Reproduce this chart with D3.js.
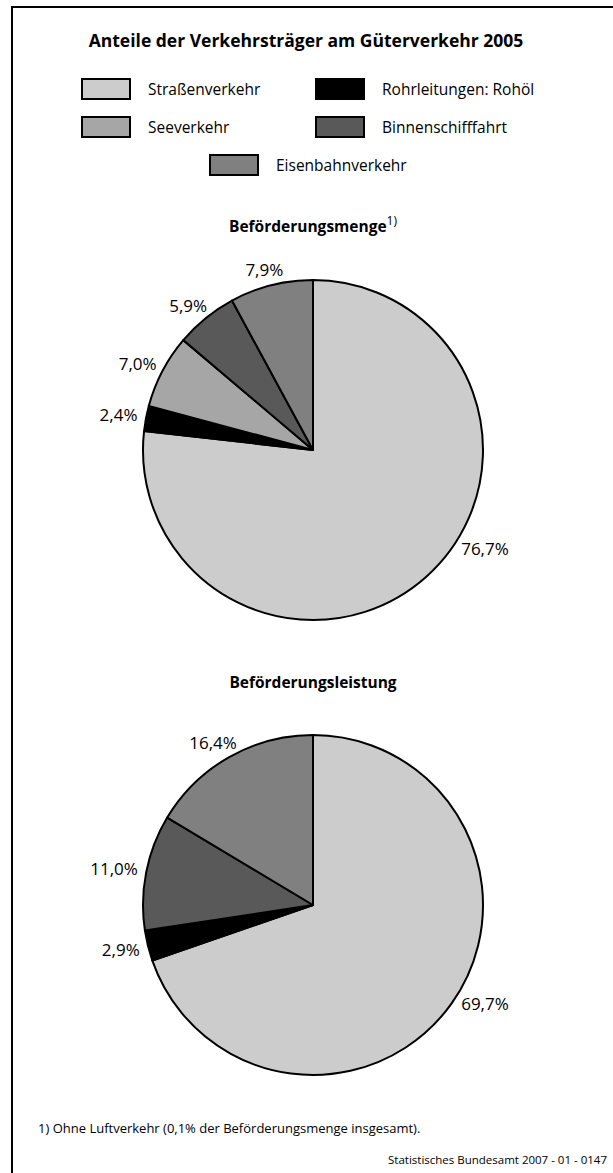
<!DOCTYPE html>
<html>
<head>
<meta charset="utf-8">
<script src="https://cdn.jsdelivr.net/npm/d3@7"></script>
<style>
  html, body { margin: 0; padding: 0; background: #fff; }
  svg { display: block; font-family: "Open Sans", "Noto Sans", sans-serif; }
</style>
</head>
<body>
<svg id="chart" width="613" height="1173"></svg>
<script>
// Verkehrsträger (Reihenfolge im Uhrzeigersinn ab 12 Uhr)
const categories = ["Straßenverkehr", "Rohrleitungen: Rohöl", "Seeverkehr", "Binnenschifffahrt", "Eisenbahnverkehr"];
const colors = ["#cccccc", "#000000", "#a6a6a6", "#595959", "#808080"];

// Anteile in %
const mengeValues = [76.7, 2.4, 7.0, 5.9, 7.9];
const leistungValues = [69.7, 2.9, 0, 11.0, 16.4];

const title = "Anteile der Verkehrsträger am Güterverkehr 2005";
const footnote = "1) Ohne Luftverkehr (0,1% der Beförderungsmenge insgesamt).";
const source = "Statistisches Bundesamt 2007 - 01 - 0147";

const svg = d3.select("#chart");

// Rahmen (rechts und unten angeschnitten)
svg.append("path")
  .attr("d", "M613,7 H12 V1173")
  .attr("fill", "none")
  .attr("stroke", "#000")
  .attr("stroke-width", 2);

// Titel
svg.append("text")
  .attr("x", 306).attr("y", 47)
  .attr("text-anchor", "middle")
  .attr("font-size", 17.5).attr("font-weight", 700)
  .text(title);

// Legende: Straße, Rohr / See, Binnen / Eisenbahn
const legendPos = [
  {x: 82, y: 79}, {x: 316, y: 79},
  {x: 82, y: 117}, {x: 316, y: 117},
  {x: 210, y: 155}
];
const legend = svg.append("g");
categories.forEach((c, i) => {
  const p = legendPos[i];
  legend.append("rect")
    .attr("x", p.x).attr("y", p.y)
    .attr("width", 48).attr("height", 20)
    .attr("fill", colors[i])
    .attr("stroke", "#000").attr("stroke-width", 2);
  legend.append("text")
    .attr("x", p.x + 66).attr("y", p.y + 16)
    .attr("font-size", 15.5)
    .text(c);
});

const fmt = v => d3.format(".1f")(v).replace(".", ",") + "%";

function drawPie(values, cx, cy, r, heading, sup, headingY) {
  const h = svg.append("text")
    .attr("x", cx).attr("y", headingY)
    .attr("text-anchor", "middle")
    .attr("font-size", 15.5).attr("font-weight", 700);
  h.append("tspan").text(heading);
  if (sup) {
    h.append("tspan").attr("dy", -7).attr("font-size", 12).attr("font-weight", 400).text(sup);
  }

  const data = values.map((v, i) => ({value: v, color: colors[i], name: categories[i]}));
  const pie = d3.pie().sort(null).value(d => d.value);
  const arcs = pie(data).filter(a => a.data.value > 0);
  const arc = d3.arc().innerRadius(0).outerRadius(r);
  const g = svg.append("g").attr("transform", `translate(${cx},${cy})`);

  g.selectAll("path")
    .data(arcs)
    .join("path")
    .attr("d", arc)
    .attr("fill", d => d.data.color)
    .attr("stroke", "#000")
    .attr("stroke-width", 2)
    .attr("stroke-linejoin", "round");

  // Beschriftung außerhalb, am Mittelwinkel; das größte Segment rechts unten
  const maxVal = d3.max(values);
  arcs.forEach(a => {
    let ang = (a.startAngle + a.endAngle) / 2;
    if (a.data.value === maxVal) ang = 122 * Math.PI / 180;
    const s = Math.sin(ang), c = Math.cos(ang);
    const t = g.append("text")
      .attr("font-size", 17)
      .attr("text-anchor", "middle")
      .attr("dy", "0.35em")
      .text(fmt(a.data.value));
    const w = t.node().getComputedTextLength();
    const ax = (r + 9) * s, ay = -(r + 9) * c;
    t.attr("x", ax + s * w / 2).attr("y", ay - c * 7);
  });
}

drawPie(mengeValues, 313, 450, 170, "Beförderungsmenge", "1)", 232);
drawPie(leistungValues, 313, 905, 170, "Beförderungsleistung", null, 688);

// Fußnote und Quelle
svg.append("text")
  .attr("x", 38).attr("y", 1133)
  .attr("font-size", 13)
  .text(footnote);
svg.append("text")
  .attr("x", 607).attr("y", 1164)
  .attr("text-anchor", "end")
  .attr("font-size", 11.5)
  .text(source);
</script>
</body>
</html>
